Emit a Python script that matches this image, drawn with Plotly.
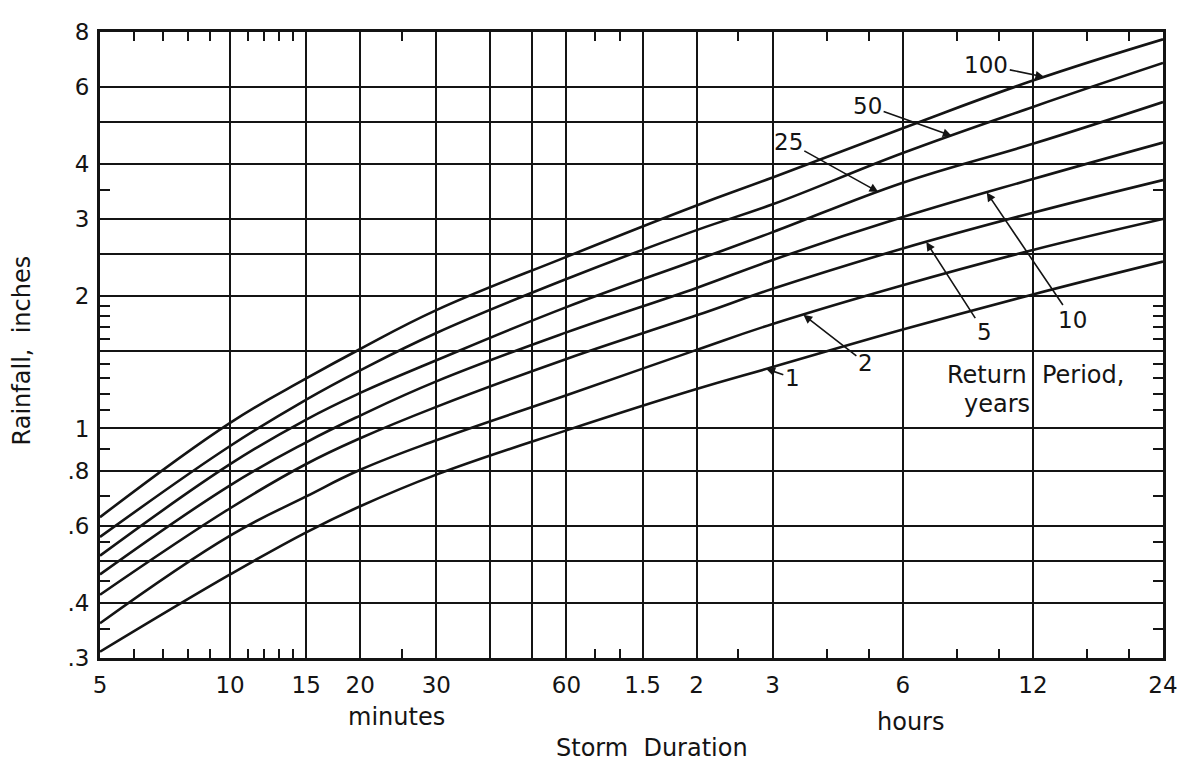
import numpy as np
import plotly.graph_objects as go

# ---------------- data ----------------
durations_min = [5, 10, 15, 20, 30, 60, 120, 180, 360, 720, 1440]

rain_1yr = [0.31, 0.465, 0.58, 0.665, 0.785, 0.99, 1.23, 1.38, 1.68, 2.02, 2.40]
rain_2yr = [0.36, 0.57, 0.70, 0.805, 0.94, 1.19, 1.51, 1.73, 2.12, 2.55, 3.00]
rain_5yr = [0.418, 0.658, 0.83, 0.95, 1.12, 1.44, 1.81, 2.08, 2.57, 3.10, 3.68]
rain_10yr = [0.465, 0.742, 0.93, 1.07, 1.28, 1.655, 2.09, 2.42, 3.03, 3.70, 4.48]
rain_25yr = [0.513, 0.829, 1.048, 1.205, 1.43, 1.89, 2.42, 2.80, 3.63, 4.45, 5.54]
rain_50yr = [0.566, 0.912, 1.163, 1.356, 1.65, 2.19, 2.83, 3.24, 4.24, 5.40, 6.80]
rain_100yr = [0.628, 1.03, 1.30, 1.517, 1.86, 2.46, 3.22, 3.73, 4.83, 6.20, 7.70]

series_names = ["1", "2", "5", "10", "25", "50", "100"]
series_values = [rain_1yr, rain_2yr, rain_5yr, rain_10yr, rain_25yr, rain_50yr, rain_100yr]

x_tick_vals = [5, 10, 15, 20, 30, 40, 50, 60, 90, 120, 180, 360, 720, 1440]
x_tick_text = ["5", "10", "15", "20", "30", "", "", "60", "1.5", "2", "3", "6", "12", "24"]
x_minor_vals = [6, 7, 8, 9, 11, 12, 13, 14, 25, 70, 80, 150, 240, 300, 480, 600, 960, 1200]

y_tick_vals = [0.3, 0.4, 0.5, 0.6, 0.8, 1, 1.5, 2, 2.5, 3, 4, 5, 6, 8]
y_tick_text = [".3", ".4", "", ".6", ".8", "1", "", "2", "", "3", "4", "", "6", "8"]
y_minor_vals = [0.35, 0.45, 0.55, 0.7, 0.9, 1.1, 1.2, 1.3, 1.4, 1.6, 1.7, 1.8, 1.9, 3.5]

# label arrow tips: duration (min) on each curve, text offset in px
label_tip_duration = {"100": 765, "50": 467, "25": 316, "10": 563, "5": 408, "2": 212, "1": 174}
label_offset = {"100": (-58, -12), "50": (-84, -30), "25": (-90, -50),
                "10": (86, 127), "5": (58, 90), "2": (62, 48), "1": (26, 9)}

INK = "#141414"
FONT = "DejaVu Sans"

fig = go.Figure()
for name, vals in zip(series_names, series_values):
    fig.add_trace(go.Scatter(
        x=durations_min, y=vals, mode="lines", name=name,
        line=dict(color=INK, width=2.6, shape="spline", smoothing=1.2),
        hoverinfo="skip"))

# curve labels with arrows
for name, vals in zip(series_names, series_values):
    d = label_tip_duration[name]
    v = 10 ** np.interp(np.log10(d), np.log10(durations_min), np.log10(vals))
    ax_, ay_ = label_offset[name]
    fig.add_annotation(
        x=np.log10(d), y=np.log10(v), xref="x", yref="y",
        text=name, showarrow=True, ax=ax_, ay=ay_,
        arrowhead=2, arrowsize=1.1, arrowwidth=1.6, arrowcolor=INK,
        font=dict(family=FONT, size=23, color=INK))

# text annotations
def note(text, x, y, angle=0, size=24):
    fig.add_annotation(x=x, y=y, xref="paper", yref="paper", text=text,
                       showarrow=False, textangle=angle,
                       font=dict(family=FONT, size=size, color=INK),
                       xanchor="center", yanchor="middle")

note("Return  Period,", 0.8805, 0.452)
note("years", 0.8438, 0.405)
note("Rainfall,  inches", -0.073, 0.492, angle=-90)
note("minutes", 0.279, -0.094)
note("hours", 0.762, -0.102)
note("Storm  Duration", 0.519, -0.144)

axis_common = dict(
    type="log", showgrid=True, gridcolor=INK, gridwidth=2.4,
    showline=True, linecolor=INK, linewidth=3, mirror="ticks",
    ticks="", zeroline=False,
    tickfont=dict(family=FONT, size=23, color=INK),
)

fig.update_xaxes(
    **axis_common,
    range=[np.log10(5), np.log10(1440)],
    tickmode="array", tickvals=x_tick_vals, ticktext=x_tick_text,
    ticklabelstandoff=4,
    minor=dict(tickmode="array", tickvals=x_minor_vals, ticks="inside",
               ticklen=9, tickwidth=2, tickcolor=INK, showgrid=False),
)
fig.update_yaxes(
    **axis_common,
    range=[np.log10(0.3), np.log10(8)],
    tickmode="array", tickvals=y_tick_vals, ticktext=y_tick_text,
    ticklabelstandoff=3,
    minor=dict(tickmode="array", tickvals=y_minor_vals, ticks="inside",
               ticklen=10, tickwidth=2, tickcolor=INK, showgrid=False),
)

# the page body has an 8px margin, so the figure is sized to fit the window
fig.update_layout(
    width=1188, height=756,
    margin=dict(l=92, r=33, t=24, b=106),
    plot_bgcolor="white", paper_bgcolor="white",
    showlegend=False,
)

fig.write_html("out.html")
